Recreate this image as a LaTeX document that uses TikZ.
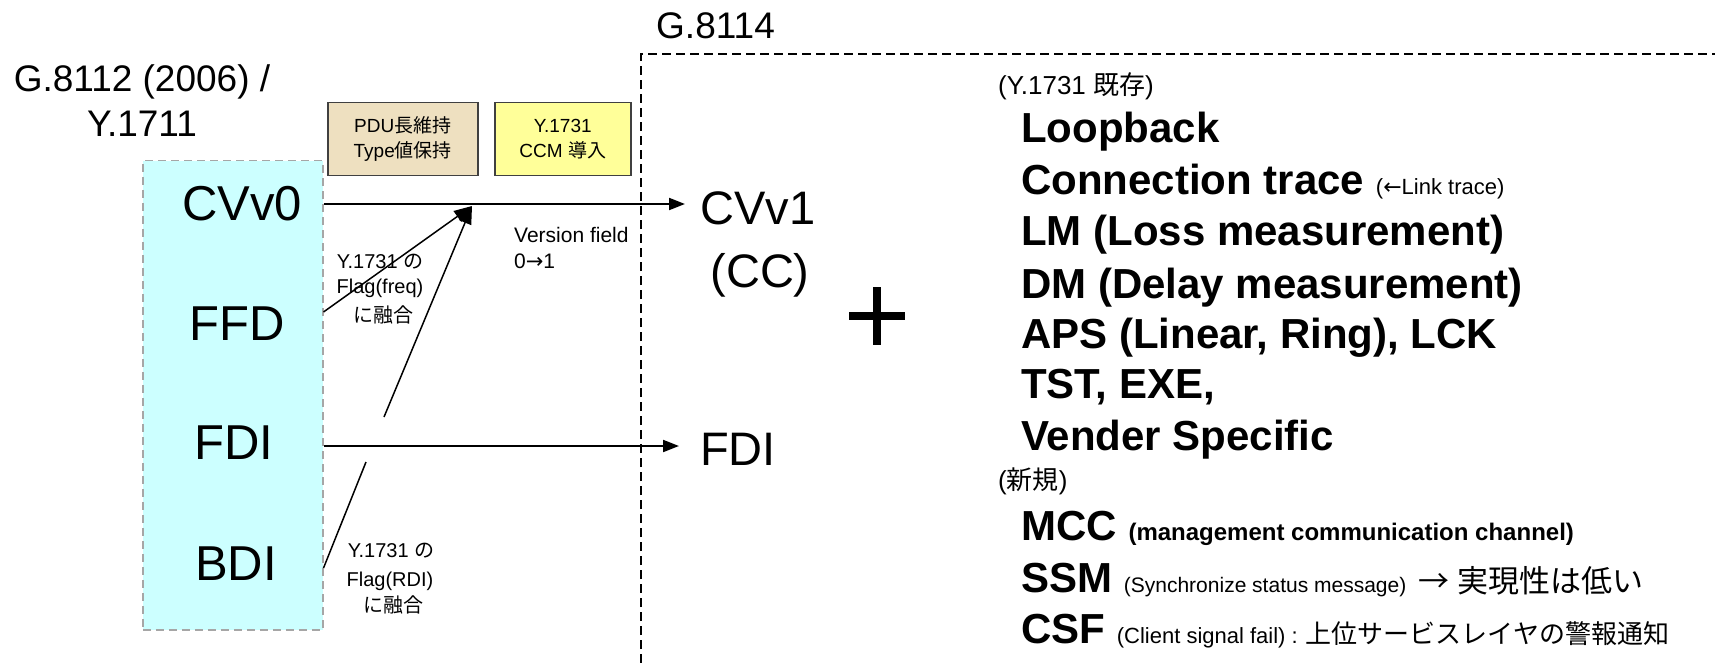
\documentclass[tikz,border=0pt]{standalone}
\usepackage{fontspec}
\setmainfont{Liberation Sans}
\newfontfamily\jp{Noto Sans CJK JP}
\newfontfamily\djv{DejaVu Sans}
\usetikzlibrary{arrows.meta}
\definecolor{cyanbg}{HTML}{CCFFFF}
\definecolor{tanbg}{HTML}{EEE0C0}
\definecolor{yellowbg}{HTML}{FFFF99}
\definecolor{boxgray}{HTML}{A6A6A6}
\begin{document}
\begin{tikzpicture}[x=1pt,y=-1pt,
  lbl/.style={inner sep=0pt, anchor=base},
  lblw/.style={inner sep=0pt, anchor=base west},
  title/.style={lbl, font=\fontsize{37}{37}\selectfont},
  sig/.style={lbl, font=\fontsize{49}{49}\selectfont},
  item/.style={lblw, font=\fontsize{42}{42}\selectfont\bfseries},
  head/.style={lblw, font=\fontsize{26}{26}\selectfont},
  ann/.style={lbl, font=\fontsize{20}{20}\selectfont},
  tagbox/.style={draw=black!75, line width=1.5pt, inner sep=0pt, anchor=north west, align=center, font=\fontsize{19}{25}\selectfont},
  arr/.style={line width=2pt, -{Triangle[length=16pt,width=12pt]}},
  thinarr/.style={line width=1.5pt, -{Triangle[length=18pt,width=13pt]}},
  thin/.style={line width=1.5pt},
  frame/.style={line width=1.5pt, dash pattern=on 9pt off 5pt}
]
\useasboundingbox (0,0) rectangle (1715,663);

% old standard
\node[title] (g8112a) at (142,92) {G.8112 (2006) /};
\node[title] (g8112b) at (142,137) {Y.1711};
\node[draw=boxgray, fill=cyanbg, line width=1.5pt, dash pattern=on 8pt off 5pt,
      minimum width=180pt, minimum height=469pt, inner sep=0pt, anchor=north west] (oldbox) at (142,160) {};
\node[sig] (cv0) at (242,220) {CVv0};
\node[sig] (ffd) at (237,340) {FFD};
\node[sig] (fdi) at (234,459) {FDI};
\node[sig] (bdi) at (236,580) {BDI};

% tags
\node[tagbox, fill=tanbg, minimum width=150pt, minimum height=73pt] (tag1) at (327,102) {PDU{\jp 長維持}\\Type{\jp 値保持}};
\node[tagbox, fill=yellowbg, minimum width=136pt, minimum height=73pt] (tag2) at (494,102) {Y.1731\\CCM {\jp 導入}};

% G.8114 frame
\node[title, anchor=base west] (g8114) at (656,39) {G.8114};
\draw[frame] (641,663) -- (641,54) -- (1715,54);

% new
\node[sig, font=\fontsize{47}{47}\selectfont] (cv1) at (758,225) {CVv1};
\node[sig, font=\fontsize{47}{47}\selectfont] (cc) at (760,287) {(CC)};
\node[sig, font=\fontsize{47}{47}\selectfont, anchor=base west] (fdi2) at (700,465) {FDI};

% connectors
\coordinate (cvtip) at (685,204);
\coordinate (fditip) at (679,446);
\coordinate (merge) at (472,206);
\coordinate (gapa) at (384,417);
\coordinate (gapb) at (366,462);
\draw[arr] (oldbox.east |- cvtip) -- (cvtip);
\draw[arr] (oldbox.east |- fditip) -- (fditip);
\draw[thinarr] (oldbox.east |- 0,312) -- (merge);
\draw[thinarr] (gapa) -- (merge);
\draw[thin] (oldbox.east |- 0,568) -- (gapb);

% annotations
\node[ann, anchor=base west, font=\fontsize{21}{21}\selectfont] (vf1) at (514,242) {Version field};
\node[ann, anchor=base west, font=\fontsize{21}{21}\selectfont] (vf2) at (514,268) {0{\djv →}1};
\node[ann] (fq1) at (380,268) {Y.1731 {\jp の}};
\node[ann] (fq2) at (380,293) {Flag(freq)};
\node[ann] (fq3) at (383,322) {\jp に融合};
\node[ann] (rd1) at (391,557) {Y.1731 {\jp の}};
\node[ann] (rd2) at (390,586) {Flag(RDI)};
\node[ann] (rd3) at (393,612) {\jp に融合};

% plus
\draw[line width=8pt] (849,316) -- (905,316);
\draw[line width=8pt] (877,287) -- (877,345);

% list
\node[head] (h1) at (998,95) {(Y.1731 {\jp 既存})};
\node[item] (i1) at (1021,143) {Loopback};
\node[item] (i2) at (1021,195) {Connection trace {\fontsize{22}{22}\selectfont\mdseries ({\djv ←}Link trace)}};
\node[item] (i3) at (1021,245) {LM (Loss measurement)};
\node[item] (i4) at (1021,298) {DM (Delay measurement)};
\node[item] (i5) at (1021,348) {APS (Linear, Ring), LCK};
\node[item] (i6) at (1021,398) {TST, EXE,};
\node[item] (i7) at (1021,450) {Vender Specific};
\node[head] (h2) at (998,489) {({\jp 新規})};
\node[item] (i8) at (1021,540) {MCC {\fontsize{24}{24}\selectfont (management communication channel)}};
\node[item] (i9) at (1021,592) {SSM {\fontsize{21}{21}\selectfont\mdseries (Synchronize status message)} {\fontsize{31}{31}\selectfont\mdseries {\jp →}\hspace{8pt}{\jp 実現性は低い}}};
\node[item] (i10) at (1021,643) {CSF {\fontsize{22}{22}\selectfont\mdseries (Client signal fail) : }{\jp\fontsize{26}{26}\selectfont\mdseries 上位サービスレイヤの警報通知}};
\end{tikzpicture}
\end{document}
